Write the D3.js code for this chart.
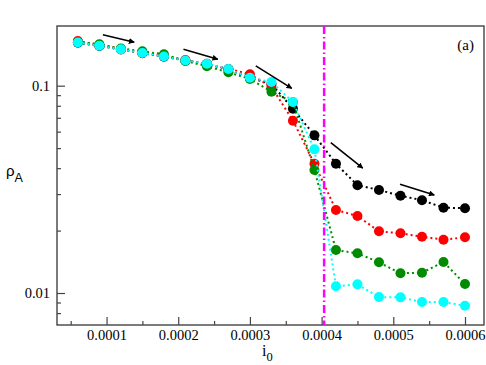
<!DOCTYPE html>
<html>
<head>
<meta charset="utf-8">
<script src="https://cdn.jsdelivr.net/npm/d3@7/dist/d3.min.js"></script>
<style>
  html, body { margin: 0; padding: 0; background: #fff; }
  svg { display: block; }
</style>
</head>
<body>
<div id="chart"></div>
<script>
// ---- data ----
const i0 = [0.00006, 0.00009, 0.00012, 0.00015, 0.00018, 0.00021, 0.00024, 0.00027, 0.00030, 0.00033,
            0.00036, 0.00039, 0.00042, 0.00045, 0.00048, 0.00051, 0.00054, 0.00057, 0.00060];
const rhoBlack = [0.1610, 0.1555, 0.1495, 0.1435, 0.1380, 0.1320, 0.1275, 0.1200, 0.1090, 0.1019,
                  0.0774, 0.0576, 0.0420, 0.0331, 0.0314, 0.02947, 0.02801, 0.02580, 0.02563];
const rhoRed   = [0.1643, 0.1572, 0.1502, 0.1445, 0.1390, 0.1330, 0.1272, 0.1204, 0.1135, 0.0986,
                  0.0678, 0.0420, 0.02515, 0.02352, 0.01984, 0.01941, 0.01869, 0.01808, 0.01857];
const rhoGreen = [0.1625, 0.1583, 0.1511, 0.1465, 0.1417, 0.1316, 0.1241, 0.1160, 0.1077, 0.0936,
                  0.0832, 0.0392, 0.01612, 0.01554, 0.01406, 0.01245, 0.01253, 0.01411, 0.01105];
const rhoCyan  = [0.1616, 0.1558, 0.1497, 0.1437, 0.1383, 0.1323, 0.1277, 0.1204, 0.1092, 0.1042,
                  0.0834, 0.0493, 0.01077, 0.01101, 0.00956, 0.00953, 0.00905, 0.00905, 0.00868];
const seriesNames = ["black", "red", "green", "cyan"];
const xTickValues = [0.0001, 0.0002, 0.0003, 0.0004, 0.0005, 0.0006];
const xTickLabels = ["0.0001", "0.0002", "0.0003", "0.0004", "0.0005", "0.0006"];
const xMinorTicks = [0.00005, 0.00015, 0.00025, 0.00035, 0.00045, 0.00055];
const yTickValues = [0.01, 0.1];
const yTickLabels = ["0.01", "0.1"];
const yMinorTicks = [0.008, 0.009, 0.02, 0.03, 0.04, 0.05, 0.06, 0.07, 0.08, 0.09];
const criticalI0 = 0.0004035;
// arrows: [x1, y1, x2, y2] in data units
const arrows = [
  [0.0000949, 0.1762, 0.0001386, 0.1620],
  [0.0002073, 0.1497, 0.0002553, 0.1341],
  [0.0003082, 0.1245, 0.0003584, 0.0971],
  [0.0004128, 0.0531, 0.0004574, 0.0400],
  [0.0005094, 0.0335, 0.0005572, 0.0297]
];

// ---- layout ----
const W = 486, H = 365;
const m = { left: 57, right: 2, top: 26, bottom: 40 };
const iw = W - m.left - m.right, ih = H - m.top - m.bottom;
const colors = { black: "#000000", red: "#ff0000", green: "#008b00", cyan: "#00ffff" };
const axisColor = "#444";

const svg = d3.select("#chart").append("svg").attr("width", W).attr("height", H);
svg.append("rect").attr("width", W).attr("height", H).attr("fill", "#fff");

const x = d3.scaleLinear().domain([0.0000309, 0.0006265]).range([m.left, m.left + iw]);
const y = d3.scaleLog().domain([0.00701, 0.194]).range([m.top + ih, m.top]);

const serif = "'Liberation Serif', 'Times New Roman', serif";
const sans = "'Liberation Sans', Arial, sans-serif";

// axes (ticks inward)
const xAxis = d3.axisBottom(x).tickValues(xTickValues).tickFormat((d, i) => xTickLabels[i]).tickSizeInner(-8).tickSizeOuter(0).tickPadding(5);
const gx = svg.append("g").attr("transform", `translate(0,${m.top + ih})`).call(xAxis);
gx.selectAll(".domain").remove();
gx.selectAll("line").attr("stroke", axisColor).attr("stroke-width", 1.2);
gx.selectAll("text").attr("font-family", serif).attr("font-size", 14.5).attr("fill", "#000");
const xAxisMinor = d3.axisBottom(x).tickValues(xMinorTicks).tickFormat("").tickSizeInner(-4).tickSizeOuter(0);
const gxm = svg.append("g").attr("transform", `translate(0,${m.top + ih})`).call(xAxisMinor);
gxm.selectAll(".domain").remove();
gxm.selectAll("line").attr("stroke", axisColor).attr("stroke-width", 1.2);

const yAxis = d3.axisLeft(y).tickValues(yTickValues).tickFormat((d, i) => yTickLabels[i]).tickSizeInner(-8).tickSizeOuter(0).tickPadding(7);
const gy = svg.append("g").attr("transform", `translate(${m.left},0)`).call(yAxis);
gy.selectAll(".domain").remove();
gy.selectAll("line").attr("stroke", axisColor).attr("stroke-width", 1.2);
gy.selectAll("text").attr("font-family", serif).attr("font-size", 14.5).attr("fill", "#000");
const yAxisMinor = d3.axisLeft(y).tickValues(yMinorTicks).tickFormat("").tickSizeInner(-4).tickSizeOuter(0);
const gym = svg.append("g").attr("transform", `translate(${m.left},0)`).call(yAxisMinor);
gym.selectAll(".domain").remove();
gym.selectAll("line").attr("stroke", axisColor).attr("stroke-width", 1.2);

// frame
svg.append("rect").attr("x", m.left).attr("y", m.top).attr("width", iw).attr("height", ih)
  .attr("fill", "none").attr("stroke", axisColor).attr("stroke-width", 1.4);

// clip
svg.append("clipPath").attr("id", "clip").append("rect")
  .attr("x", m.left).attr("y", m.top).attr("width", iw).attr("height", ih);
const plot = svg.append("g").attr("clip-path", "url(#clip)");

// series
const dataBy = { black: rhoBlack, red: rhoRed, green: rhoGreen, cyan: rhoCyan };
const line = d3.line().x(d => x(d[0])).y(d => y(d[1]));
seriesNames.forEach(name => {
  const pts = i0.map((v, i) => [v, dataBy[name][i]]);
  plot.append("path").datum(pts).attr("d", line)
    .attr("fill", "none").attr("stroke", colors[name]).attr("stroke-width", 2)
    .attr("stroke-dasharray", "2,3");
  plot.selectAll(null).data(pts).enter().append("circle")
    .attr("cx", d => x(d[0])).attr("cy", d => y(d[1])).attr("r", 5)
    .attr("fill", colors[name]);
});

// critical line
plot.append("line")
  .attr("x1", x(criticalI0)).attr("x2", x(criticalI0))
  .attr("y1", m.top).attr("y2", m.top + ih)
  .attr("stroke", "#ff00ff").attr("stroke-width", 2.5)
  .attr("stroke-dasharray", "8,3,1.5,3");

// arrows
const defs = svg.append("defs");
defs.append("marker").attr("id", "ah").attr("viewBox", "0 0 10 10")
  .attr("refX", 9).attr("refY", 5).attr("markerWidth", 6).attr("markerHeight", 6)
  .attr("markerUnits", "userSpaceOnUse").attr("orient", "auto")
  .append("path").attr("d", "M0,0 L10,5 L0,10 z").attr("fill", "#000");
svg.selectAll(null).data(arrows).enter().append("line")
  .attr("x1", d => x(d[0])).attr("y1", d => y(d[1]))
  .attr("x2", d => x(d[2])).attr("y2", d => y(d[3]))
  .attr("stroke", "#000").attr("stroke-width", 1.6)
  .attr("marker-end", "url(#ah)");

// labels
svg.append("text").attr("x", 474).attr("y", 50).attr("text-anchor", "end")
  .attr("font-family", serif).attr("font-size", 15).text("(a)");

const xl = svg.append("text").attr("x", 262).attr("y", 356)
  .attr("font-family", serif).attr("font-size", 16);
xl.append("tspan").text("i");
xl.append("tspan").attr("font-size", 12.5).attr("dy", 5).text("0");

const yl = svg.append("text").attr("x", 6).attr("y", 176)
  .attr("font-family", sans).attr("font-size", 15);
yl.append("tspan").text("ρ");
yl.append("tspan").attr("font-size", 12.5).attr("dy", 6).text("A");
</script>
</body>
</html>
